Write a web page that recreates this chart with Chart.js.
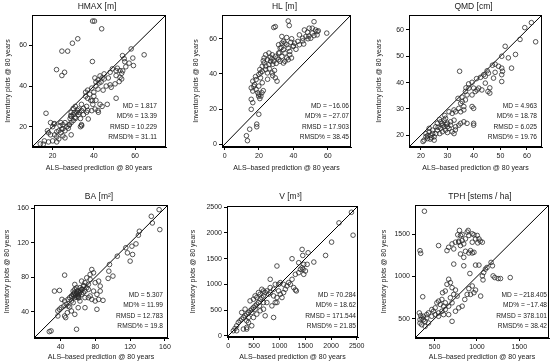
<!DOCTYPE html>
<html><head><meta charset="utf-8">
<script src="https://cdn.jsdelivr.net/npm/chart.js@4/dist/chart.umd.min.js"></script>
<style>
html,body{margin:0;padding:0;background:#fff;}
#wrap{position:relative;width:550px;height:364px;overflow:hidden;background:#fff;}
canvas.cv{position:absolute;}
</style></head><body><div id="wrap"></div>
<script>
// ---------- DATA ----------
const panelTitles = ['HMAX [m]', 'HL [m]', 'QMD [cm]', 'BA [m\u00B2]', 'V [m\u00B3]', 'TPH [stems / ha]'];
const xAxisLabel = 'ALS\u2013based prediction @ 80 years';
const yAxisLabel = 'Inventory plots @ 80 years';

const hmaxTicks = [20, 40, 60];
const hlTicks = [0, 20, 40, 60];
const qmdTicks = [20, 30, 40, 50, 60];
const baTicks = [40, 80, 120, 160];
const vTicks = [0, 500, 1000, 1500, 2000, 2500];
const tphTicks = [500, 1000, 1500];

const hmaxStats = ['MD = 1.817', 'MD% = 13.39', 'RMSD = 10.229', 'RMSD% = 31.11'];
const hlStats = ['MD = \u221216.06', 'MD% = \u221227.07', 'RMSD = 17.903', 'RMSD% = 38.45'];
const qmdStats = ['MD = 4.963', 'MD% = 18.78', 'RMSD = 6.025', 'RMSD% = 19.76'];
const baStats = ['MD = 5.307', 'MD% = 11.99', 'RMSD = 12.783', 'RMSD% = 19.8'];
const vStats = ['MD = 70.284', 'MD% = 18.62', 'RMSD = 171.544', 'RMSD% = 21.85'];
const tphStats = ['MD = \u2212218.405', 'MD% = \u221217.48', 'RMSD = 378.101', 'RMSD% = 38.42'];

const hmaxPred = [39.4,40.3,43.8,32.2,29.6,24.5,27.3,21.9,25.8,24.5,39.3,16.8,58.1,64.4,58.9,57.1,59.2,53.9,54.7,55.5,54,47.9,49.0,50.8,51.4,52.7,53.5,50.8,52.7,53.5,52.3,50.3,47.9,48.4,50.8,40.5,42,43,44,42.5,41,43.5,45,46,44.5,42,40,39,38,40,37,36,38.5,41,43,42,44,46.5,39.5,36.5,35,34,37,33,35,32,31,30,29,30,29,31,30,29,28.5,30.5,32.5,33.5,34,33.5,28,27,26,25,26,24,23,22,21,22,23,19,18,17.5,20,21,19,24,25,26,25,22,18,16,14,20,29,20.6,23.6,24.4,27.6,28.1,28.8,30.9,31.7,32.5,34.1,36.5,37.3,39.0,40.6,42.2,15.5,34.1,36,37,41,45,47,55,39.3];
const hmaxObs = [72,72,68.2,63.3,61.1,57.2,57.2,48.1,46.8,45.2,52.1,26.6,58.3,55.4,53.8,51.3,50.1,55.0,53.5,49.5,47.5,46.8,48.5,47.6,48.8,47.6,46.3,45.2,44.3,43.5,42.2,41.1,40.6,39.4,34.0,44,43,45,44,41.5,40,42,43.5,40,38,38.5,37,39,36,35,34,37,33,33,31,28,30,31,31,30,29,31,28,27,26,28,30,29,27,26,25,24,23,22,24,27,26,24,21,20,21,20,22,19,18,17,18,17.5,16,15,14,16,17,18,20,21.5,22,22,21,14.5,15.5,12.5,12.5,13,11.5,13,16,21.3,20.5,18.8,19.2,20.8,25.4,24.6,27.1,28.7,27.9,27.1,23.8,27.9,28.7,27.1,11.4,20.5,35,38,42,46,44,52,32.8];

const hlPred = [28.6,29.5,37.0,37.6,52.0,33.3,36.1,46.4,49.2,51.0,52.9,53.8,48.2,51.0,53.8,59.4,43.5,45.4,47.3,42.6,43.5,45.4,50.1,52.0,31.4,33.3,34.2,35.1,36.1,32.3,34.2,37.0,37.9,35.1,37.9,36.1,33.3,31.4,30.5,32.3,34.2,29.5,27.7,25.8,23.9,23.0,24.9,26.7,28.6,25.8,23.0,21.9,23.9,24.9,27.7,29.5,30.5,21.9,20.9,19.9,20.9,18.3,16.4,17.4,15.5,16.4,18.3,19.9,21.9,19.3,19.8,21.1,21.7,15.5,16.4,15.5,19.9,18.7,18.7,14.6,12.7,13.3,40.7,39.8,38.9,37.0,35.1,31.4,26.5,27.5,28,30,32,33,38.5,39,40,22.5,20.5,18,17,20,20.5,22.5,41.5,46,48.5,54.5,49,24,26,29,25,28];
const hlObs = [66.4,66.9,70.1,67.5,69.7,61.3,60.7,65.0,66.0,66.0,65.0,64.1,63.7,63.2,62.2,63.2,62.2,60.3,61.3,58.5,56.6,58.8,60.3,61.8,56.6,57.5,58.5,57.5,56.6,54.7,53.8,54.7,52.8,51.9,50.9,49.1,50.0,51.9,49.1,47.2,46.2,50.0,50.9,51.9,50.9,49.1,48.1,47.2,47.2,45.3,46.2,44.4,42.5,40.6,40.6,37.8,35.9,41.5,40.6,39.7,37.8,36.8,35.9,34.0,32.1,30.3,31.2,33.1,35.0,29.3,27.4,27.4,29.3,25.6,23.7,19.9,17.1,11.5,10.0,8.6,4.9,2.1,57.5,55.6,49.1,48.1,47.2,48.1,49.5,48.5,45.5,46,52,55,58,60,56,47.5,42.5,38.5,33,28.5,26,30.5,54,57,60,64.5,61.5,44.5,43,42,37,39];

const qmdPred = [61.7,59.2,57.4,63.3,51.8,55.7,50.5,53.0,54.2,49.3,50.5,50.8,50.5,48.0,50.5,47.0,45.5,44.3,43.7,34.6,47.4,44.3,43.0,41.8,45.3,46.0,41.2,39.9,40.5,39.3,38.1,39.3,36.8,37.4,36.8,35.6,35.0,36.2,39.3,39.9,34.3,33.1,32.5,30.6,31.8,35.0,36.2,29.3,28.7,27.5,26.2,28.1,30.0,31.2,32.5,34.3,36.2,37.4,39.9,39.9,25.6,24.4,23.1,23.7,21.9,21.2,22.5,25.0,27.1,28.1,29.3,30.6,31.8,33.1,26.2,27.5,28.7,24.4,25.6,25.0,21.9,23.1,31.2,30.0,32.5,41,42.5,37,34,35.5,38,46,29,27,30,33,35,28,29.5,26.5,24,22.5,20.8,23.5,48,45];
const qmdObs = [62.8,60.9,56.4,55.5,53.8,50.7,50.0,49.4,45.5,46.2,45.5,44.3,43.0,43.9,40.4,46.6,43.6,42.4,43.0,44.3,41.7,39.8,37.2,37.9,36.6,36.0,37.2,37.9,36.6,40.1,37.9,35.3,36.6,35.3,33.4,32.8,32.1,30.9,30.9,30.2,30.2,28.9,29.6,28.9,28.3,28.9,29.6,26.4,25.7,25.1,24.5,23.8,24.5,25.1,25.7,23.8,25.1,24.5,24.5,23.8,23.2,21.9,21.3,20.0,19.4,18.1,18.7,19.4,20.6,21.3,21.9,22.6,21.3,23.2,21.9,22.6,23.2,20.6,20.6,18.1,20.6,22.6,23.8,23.2,20.6,41.5,42,38,34,34.5,39.5,38,27.5,26,21,22,24.5,24.5,24,23,19,19.8,17.6,18.5,47,44.5];

const baPred = [153.3,144.3,145.5,154.1,130.6,129.5,126.7,122.0,115.0,116.9,122.8,120.0,105.2,96.3,95.5,100.2,94.7,83.8,85.6,75.9,77.9,44.7,79.8,74.0,72.0,70.1,68.1,66.2,64.2,62.3,60.3,58.4,56.4,54.5,52.5,50.5,48.6,44.7,46.6,43.8,38.8,36.9,40.8,50.5,47.8,44.7,45.9,36.9,33.0,38.8,41.6,60.3,62.3,68.1,72.0,75.9,79.8,83.8,88.8,81.8,74.0,77.9,85.6,81.8,60.3,68.1,56.4,52.5,58.4,29.1,27.1,56.4,64.2,70.1,74.0,66.2,64.2,60.3,56.4,68.1,72.0,54.5,58.4,52.5,48.6,54.5,57,59,61,58,62,60,63,56,59,61,65,67,55,53];
const baObs = [158.1,150.4,142.7,135.0,133.1,128.5,118.5,115.8,114.0,108.1,106.2,98.5,104.2,94.6,86.9,81.2,78.5,75.4,69.6,88.8,85.0,82.3,73.5,77.3,71.5,67.7,73.5,69.6,65.8,67.7,63.8,61.9,65.8,60.0,58.1,56.2,54.2,52.3,48.5,46.5,42.7,40.8,44.6,45.4,38.8,35.0,33.1,35.0,63.8,64.6,54.2,56.2,52.3,56.2,56.2,54.2,52.3,54.2,53.1,42.7,58.1,63.8,63.8,60.0,44.6,44.6,36.9,40.8,19.6,17.7,16.9,71.5,75.4,79.2,83.1,61.9,60.0,58.1,56.2,63.8,65.8,63.8,67.7,52.3,46.5,50.4,59,61,60,57,62,58,64,62,64,56,66,70,60,58];

const vPred = [2397,2155,2429,2011,1894,1437,1450,1554,1665,1241,947,1535,1469,1404,1456,1371,1306,1502,1469,1437,1371,1241,1175,1143,1208,1273,1306,1326,1077,1012,980,914,882,816,816,751,784,718,686,653,620,588,555,522,490,457,424,392,359,327,294,261,229,196,163,131,98,294,359,424,490,555,620,686,882,947,1012,1045,914,849,751,686,718,882,620,555,490,392,359,261,327,522,588,653,816,980,1110,1077,947,686,607,522,457,392,457,359,163];
const vObs = [2403,2196,1957,1822,1563,1680,1563,1615,1434,1499,1357,1389,1389,1292,1292,1227,1195,1260,1195,1324,1421,1098,1034,969,1001,937,891,872,1001,1034,1001,1001,904,937,1098,872,808,840,775,743,711,646,614,581,549,517,485,452,420,388,355,323,291,258,194,142,97,129,129,678,711,743,808,872,775,743,808,743,646,581,646,517,388,355,485,420,355,355,291,452,517,775,840,904,840,872,904,840,646,646,581,517,452,258,194,162,97];

const tphPred = [381,329,337,361,548,794,774,806,826,885,897,905,945,965,1004,1024,1064,984,945,865,826,786,747,707,667,647,727,806,845,925,945,965,806,845,727,845,984,1024,1167,1183,1119,1100,1080,1064,917,1191,1211,1250,1278,1393,1072,945,905,885,857,826,984,965,925,1044,667,647,687,707,747,727,767,687,595,627,587,548,528,568,607,508,468,488,429,409,369,349,329,369,389,409,468,508,548,587,627,667,707,627,329,349,389,707,548,607,667,747,786,337,321,429,1040,1010,905,865,786];
const tphObs = [1776,1308,1276,760,1368,1548,1496,1488,1500,1528,1548,1488,1508,1496,1488,1448,1408,1448,1408,1448,1428,1408,1408,1388,1348,1308,1328,1368,1388,1308,1280,1288,1268,1228,1148,1128,1136,1136,1168,1128,1108,1088,1048,1008,1036,1008,988,976,976,988,960,888,856,788,728,648,840,808,788,768,968,908,928,868,840,788,768,748,808,828,728,708,688,668,648,628,608,588,568,548,528,508,488,488,468,508,528,548,568,588,608,648,688,688,448,428,408,468,528,548,548,588,628,536,568,448,1420,1400,1280,1300,1420];

// ---------- PANELS ----------
const panels = [
  {pred: hmaxPred, obs: hmaxObs, ticks: hmaxTicks, stats: hmaxStats, title: panelTitles[0],
   L: 0, T: 0, box: {l: 32, t: 15, r: 166, b: 147}, min: 10, max: 75, sx: 157, ytx: 8},
  {pred: hlPred, obs: hlObs, ticks: hlTicks, stats: hlStats, title: panelTitles[1],
   L: 183, T: 0, box: {l: 222, t: 15, r: 351, b: 147}, min: -1.5, max: 73.5, sx: 349, ytx: 196},
  {pred: qmdPred, obs: qmdObs, ticks: qmdTicks, stats: qmdStats, title: panelTitles[2],
   L: 366, T: 0, box: {l: 409, t: 15, r: 542, b: 147}, min: 15.5, max: 65.7, sx: 537, ytx: 379},
  {pred: baPred, obs: baObs, ticks: baTicks, stats: baStats, title: panelTitles[3],
   L: 0, T: 182, box: {l: 34, t: 205, r: 168, b: 338}, min: 9.5, max: 163.5, sx: 163, ytx: 7},
  {pred: vPred, obs: vObs, ticks: vTicks, stats: vStats, title: panelTitles[4],
   L: 183, T: 182, box: {l: 227, t: 206, r: 358, b: 337}, min: -25, max: 2525, sx: 356, ytx: 193},
  {pred: tphPred, obs: tphObs, ticks: tphTicks, stats: tphStats, title: panelTitles[5],
   L: 366, T: 182, box: {l: 415, t: 205, r: 549, b: 338}, min: 270, max: 1850, sx: 547, ytx: 384}
];

const FONT = "'Liberation Sans', Arial, sans-serif";
const TXT = '#1a1a1a';
const CW = 200, CH = 182;

const panelPlugin = {
  id: 'panelText',
  afterDraw(chart, args, opts) {
    const ctx = chart.ctx, a = chart.chartArea, p = opts.p;
    ctx.save();
    ctx.strokeStyle = '#000'; ctx.lineWidth = 1;
    ctx.strokeRect(Math.round(a.left) + 0.5, Math.round(a.top) + 0.5, Math.round(a.right - a.left) - 1, Math.round(a.bottom - a.top) - 1);
    ctx.fillStyle = TXT;
    ctx.textAlign = 'center'; ctx.textBaseline = 'middle';
    ctx.font = "8.5px " + FONT;
    ctx.fillText(p.title, (a.left + a.right) / 2 - 2, (p.T === 0 ? 6.5 : 15));
    ctx.font = "6.6px " + FONT;
    ctx.textAlign = 'right';
    const ys = p.T === 0 ? [106, 116.5, 127, 137] : [113.5, 123.5, 134, 144.5];
    p.stats.forEach((s, i) => ctx.fillText(s, p.sx - p.L, ys[i]));
    ctx.restore();
  }
};

const wrap = document.getElementById('wrap');
panels.forEach(p => {
  const cv = document.createElement('canvas');
  cv.className = 'cv';
  cv.width = CW; cv.height = CH;
  cv.style.left = p.L + 'px'; cv.style.top = p.T + 'px';
  cv.style.width = CW + 'px'; cv.style.height = CH + 'px';
  wrap.appendChild(cv);
  const pts = p.pred.map((x, i) => ({x: x, y: p.obs[i]}));
  const xTitleY = p.T === 0 ? 168 : 357;
  const tickFont = {family: FONT, size: 7};
  const titleFont = {family: FONT, size: 7, lineHeight: 1.2};
  const common = (isX) => ({
    type: 'linear', min: p.min, max: p.max,
    afterBuildTicks: s => { s.ticks = p.ticks.map(v => ({value: v})); },
    ticks: {font: tickFont, color: TXT, padding: 2, maxRotation: 0, autoSkip: false, callback: v => String(v)},
    grid: {drawOnChartArea: false, drawTicks: true, tickLength: 3, color: '#000', lineWidth: 1},
    border: {display: true, color: '#000', width: 1}
  });
  const xs = common(true), ysc = common(false);
  xs.afterFit = s => { s.height = p.T + CH - p.box.b; };
  xs.title = {display: true, text: xAxisLabel, font: titleFont, color: TXT,
              padding: {top: 0, bottom: (p.T + CH) - xTitleY - 4.2}};
  ysc.afterFit = s => { s.width = p.box.l - p.L; };
  ysc.title = {display: true, text: yAxisLabel, font: titleFont, color: TXT,
               padding: {top: p.ytx - p.L - 4.2, bottom: 0}};
  new Chart(cv, {
    type: 'scatter',
    data: {datasets: [
      {data: pts, pointRadius: 2.3, pointHoverRadius: 2.3, borderColor: '#2a2a2a', backgroundColor: 'rgba(0,0,0,0)', pointBorderWidth: 0.8, borderWidth: 0.8},
      {data: [{x: p.min, y: p.min}, {x: p.max, y: p.max}], showLine: true, pointRadius: 0, borderColor: '#000', borderWidth: 1, fill: false}
    ]},
    options: {
      responsive: false, animation: false, devicePixelRatio: 1,
      layout: {padding: {left: 0, top: p.box.t - p.T, right: p.L + CW - p.box.r, bottom: 0}},
      plugins: {legend: {display: false}, tooltip: {enabled: false}, panelText: {p: p}},
      scales: {x: xs, y: ysc}
    },
    plugins: [panelPlugin]
  });
});
</script></body></html>
